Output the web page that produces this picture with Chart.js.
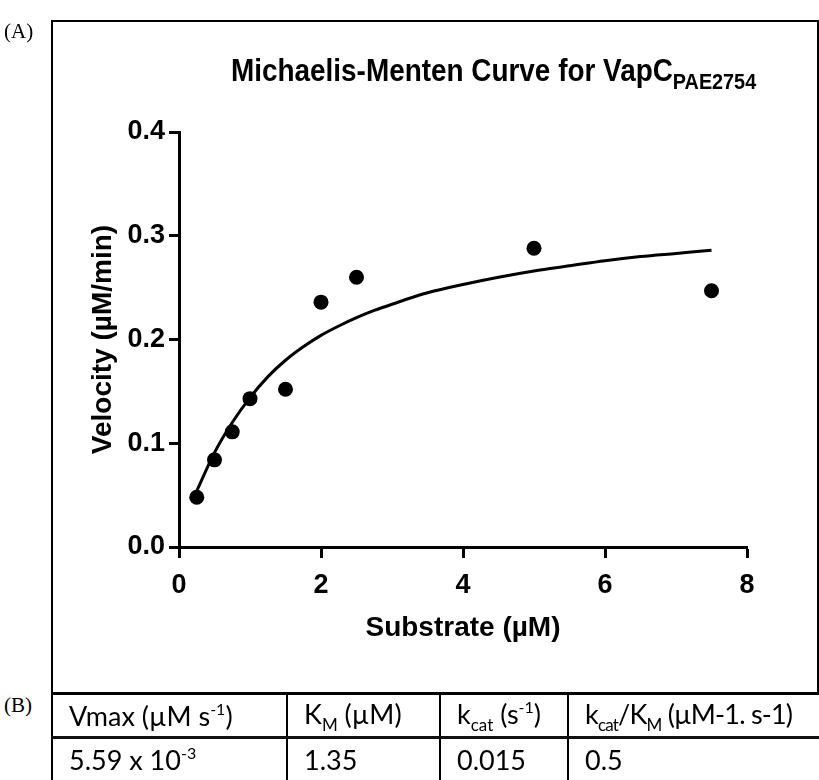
<!DOCTYPE html>
<html>
<head>
<meta charset="utf-8">
<script src="https://cdn.jsdelivr.net/npm/chart.js@4.4.1/dist/chart.umd.min.js"></script>
<style>
  body { margin: 0; background: #fff; width: 819px; height: 780px; overflow: hidden; position: relative; font-family: 'Liberation Sans', Arial, sans-serif; }
  #kinetics { position: absolute; left: 0; top: 0; }
  .frame { position: absolute; left: 51px; top: 20px; width: 764px; height: 671px; border: 2px solid #000; pointer-events: none; }
  .panel { position: absolute; left: 4px; font-family: 'Liberation Serif', serif; font-size: 21px; line-height: 21px; }
  .title { position: absolute; left: 231px; top: 55px; font-weight: bold; font-size: 31px; line-height: 31px; white-space: nowrap; transform: scaleX(0.9); transform-origin: left top; }
  .title span { font-size: 22px; vertical-align: -8px; }
  table { position: absolute; left: 51px; top: 692px; border-collapse: collapse; font-family: Lato, 'Open Sans', sans-serif; font-size: 27px; table-layout: fixed; width: 800px; }
  td { border: 2px solid #000; padding: 0 0 0 16px; height: 41px; vertical-align: middle; white-space: nowrap; }
  td.tight { letter-spacing: -0.8px; }
  tr.head td { border-top-width: 3px; }
  tr.vals td { border-top: 3px solid #111; }
  sup { font-size: 16px; vertical-align: 11px; }
  sub { font-size: 17px; vertical-align: -7px; }
</style>
</head>
<body>
<canvas id="kinetics" width="819" height="693"></canvas>
<div class="frame"></div>
<div class="panel" style="top:21px">(A)</div>
<div class="panel" style="top:695px">(B)</div>
<div class="title">Michaelis-Menten Curve for VapC<span>PAE2754</span></div>
<table>
  <colgroup><col style="width:235px"><col style="width:153px"><col style="width:128px"><col style="width:284px"></colgroup>
  <tr class="head">
    <td>Vmax (µM s<sup>-1</sup>)</td>
    <td>K<sub>M</sub> (µM)</td>
    <td>k<sub>cat</sub> (s<sup>-1</sup>)</td>
    <td class="tight">k<sub>cat</sub>/K<sub>M</sub> (µM-1. s-1)</td>
  </tr>
  <tr class="vals">
    <td>5.59 x 10<sup>-3</sup></td>
    <td>1.35</td>
    <td>0.015</td>
    <td>0.5</td>
  </tr>
</table>
<script>
// measured rates
const substrate = [0.25, 0.5, 0.75, 1, 1.5, 2, 2.5, 5, 7.5];
const velocity = [0.048, 0.084, 0.111, 0.143, 0.152, 0.236, 0.260, 0.288, 0.247];

// fitted Michaelis-Menten curve
const fitSubstrate = [0.25, 0.5, 0.75, 1, 1.25, 1.5, 1.75, 2, 2.25, 2.5, 2.75, 3, 3.5, 4, 4.5, 5, 5.5, 6, 6.5, 7, 7.5];
const fitVelocity = [0.054, 0.091, 0.120, 0.144, 0.164, 0.180, 0.193, 0.204, 0.213, 0.221, 0.228, 0.234, 0.245, 0.253, 0.260, 0.266, 0.271, 0.276, 0.280, 0.283, 0.286];

const xTicks = [0, 2, 4, 6, 8];
const yTicks = [0, 0.1, 0.2, 0.3, 0.4];

const tickFont = { family: "'Liberation Sans', Arial, sans-serif", size: 27, weight: 'bold' };
const titleFont = { family: "'Liberation Sans', Arial, sans-serif", size: 28, weight: 'bold' };

function toPoints(xs, ys) {
    return xs.map((x, i) => ({ x: x, y: ys[i] }));
}

const ctx = document.getElementById('kinetics').getContext('2d');
new Chart(ctx, {
    type: 'scatter',
    data: {
        datasets: [{
            label: 'Data',
            data: toPoints(substrate, velocity),
            backgroundColor: '#000',
            borderWidth: 0,
            pointRadius: 7.5
        }, {
            label: 'Fit',
            data: toPoints(fitSubstrate, fitVelocity),
            showLine: true,
            borderColor: '#000',
            borderWidth: 3,
            pointRadius: 0,
            cubicInterpolationMode: 'monotone',
            fill: false
        }]
    },
    options: {
        responsive: false,
        animation: false,
        layout: { padding: { left: 82, top: 132, right: 72, bottom: 44 } },
        plugins: {
            legend: { display: false },
            tooltip: { enabled: false }
        },
        scales: {
            x: {
                type: 'linear',
                min: 0,
                max: 8,
                afterBuildTicks: s => { s.ticks = xTicks.map(v => ({ value: v })); },
                afterFit: s => { s.height = 102; },
                border: { display: true, color: '#000', width: 3 },
                grid: { drawOnChartArea: false, drawTicks: true, tickLength: 11, tickWidth: 3, tickColor: '#000' },
                ticks: { color: '#000', font: tickFont, padding: 11 },
                title: { display: true, text: 'Substrate (µM)', color: '#000', font: titleFont }
            },
            y: {
                type: 'linear',
                min: 0,
                max: 0.4,
                afterBuildTicks: s => { s.ticks = yTicks.map(v => ({ value: v })); },
                afterFit: s => { s.width = 97; },
                border: { display: true, color: '#000', width: 3 },
                grid: { drawOnChartArea: false, drawTicks: true, tickLength: 10, tickWidth: 3, tickColor: '#000' },
                ticks: { color: '#000', font: tickFont, padding: 4, callback: v => v.toFixed(1) },
                title: { display: true, text: 'Velocity (µM/min)', color: '#000', font: titleFont }
            }
        }
    }
});
</script>
</body>
</html>
